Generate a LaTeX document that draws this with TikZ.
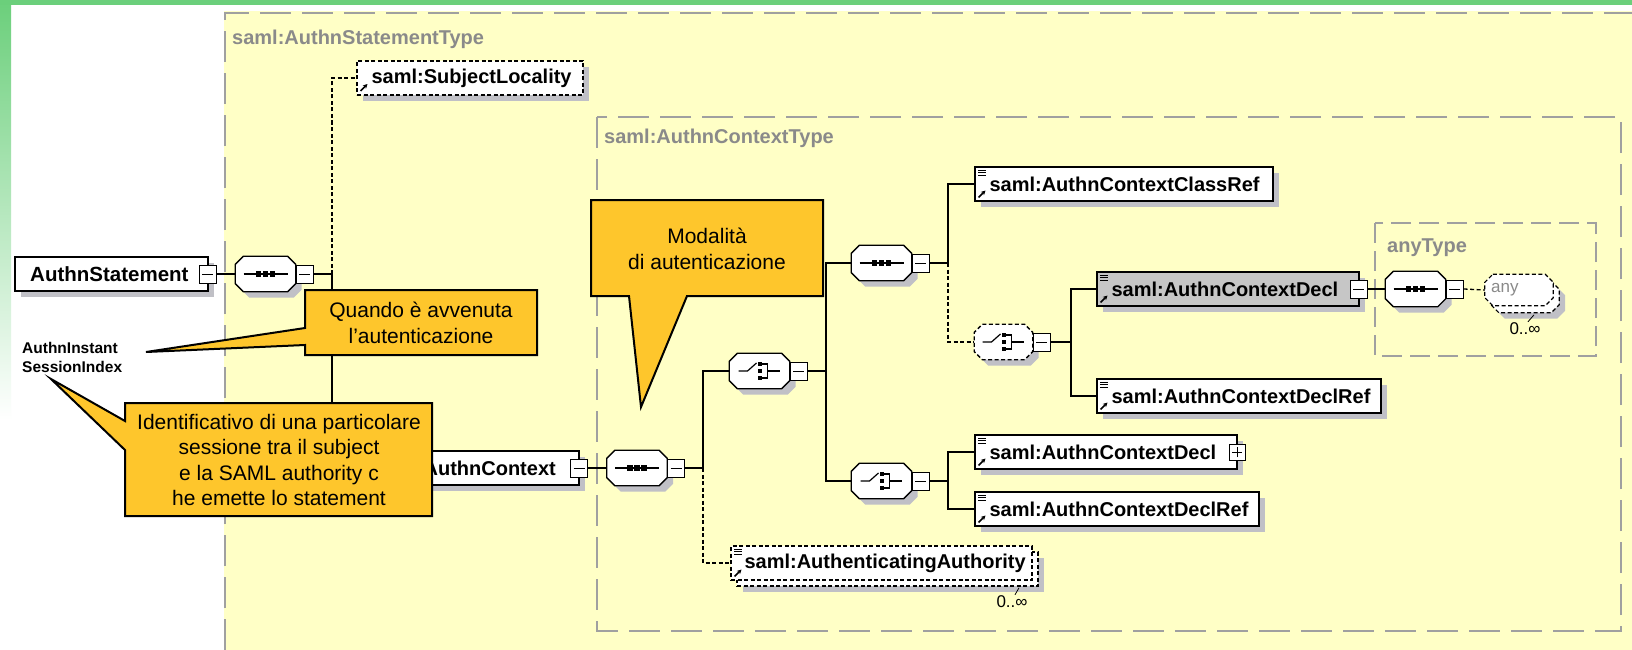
\documentclass[tikz,border=0pt]{standalone}
\usepackage{fontspec}
\setmainfont{Liberation Sans}
\usetikzlibrary{shadows,arrows.meta}
\definecolor{ybg}{HTML}{FFFFC6}
\definecolor{dgray}{HTML}{A0A0A0}
\definecolor{lgray}{HTML}{8A8A8A}
\definecolor{shg}{HTML}{C0C0C6}
\definecolor{callo}{HTML}{FEC62C}
\definecolor{grn}{HTML}{6BCF7B}
\definecolor{boxg}{HTML}{C6C6C6}
\newcommand\tklab{\fontsize{20}{22}\selectfont\bfseries}
\newcommand\tkbig{\fontsize{20.5}{24}\selectfont\bfseries}
\newcommand\tkcall{\fontsize{21}{25.3}\selectfont}
\newcommand\tksm{\fontsize{15.5}{19}\selectfont\bfseries}
\newcommand\tkocc{\fontsize{17}{20}\selectfont}
% octagon outline around a named node, shifted by (#2,#3)
\newcommand\octp[3]{([shift={(8pt+#2,#3)}]#1.north west) -- ([shift={(-8pt+#2,#3)}]#1.north east) -- ([shift={(#2,-8pt+#3)}]#1.north east) -- ([shift={(#2,8pt+#3)}]#1.south east) -- ([shift={(-8pt+#2,#3)}]#1.south east) -- ([shift={(8pt+#2,#3)}]#1.south west) -- ([shift={(#2,8pt+#3)}]#1.south west) -- ([shift={(#2,-8pt+#3)}]#1.north west) -- cycle}
% draw an octagon with shadow: #1 outline options, #2 node name
\newcommand\octdraw[2]{%
  \fill[shg] \octp{#2}{6pt}{-6pt};
  \filldraw[fill=white,draw=black,line width=1.3pt,#1] \octp{#2}{0pt}{0pt};}
\newcommand\seqsym[1]{%
  \draw[line width=1.2pt] ([xshift=-22pt]#1.center) -- ([xshift=22pt]#1.center);
  \foreach \dx in {-7,0,7} \fill[black] ([shift={(\dx pt-2.6pt,-2.6pt)}]#1.center) rectangle ++(5.2pt,5.2pt);}
\newcommand\chsym[1]{%
  \draw[line width=1.2pt] ([xshift=-21pt]#1.center) -- ([xshift=-12pt]#1.center) -- ([shift={(-3pt,8pt)}]#1.center);
  \foreach \dy in {7,0,-7} \fill[black] ([shift={(-2pt,\dy pt-2.4pt)}]#1.center) rectangle ++(4.6pt,4.8pt);
  \draw[line width=1.2pt] ([shift={(2.6pt,7pt)}]#1.center) -- ([shift={(8pt,7pt)}]#1.center) -- ([shift={(8pt,-7pt)}]#1.center) -- ([shift={(2.6pt,-7pt)}]#1.center);
  \draw[line width=1.2pt] ([shift={(8pt,0pt)}]#1.center) -- ([shift={(20pt,0pt)}]#1.center);}
\tikzset{
  shd/.style={drop shadow={shadow xshift=6pt,shadow yshift=-6pt,opacity=1,fill=shg}},
  box/.style={draw=black,line width=1.3pt,fill=white,inner sep=0pt,minimum height=34pt},
  elem/.style={box,shd},
  dsh/.style={dash pattern=on 4pt off 2.5pt},
  lbl/.style={anchor=west,font=\tklab,inner sep=0pt},
  glbl/.style={anchor=west,font=\tklab,inner sep=0pt,text=lgray},
  conn/.style={line width=1.3pt,draw=black},
  octbox/.style={rectangle,inner sep=0pt,minimum width=60pt,minimum height=35pt},
  btn/.style={draw=black,line width=1pt,fill=white,inner sep=0pt,minimum width=17pt,minimum height=18pt,
    path picture={\draw[line width=1pt,solid] ([xshift=3pt]path picture bounding box.west) -- ([xshift=-3pt]path picture bounding box.east);}},
  pbtn/.style={btn,minimum width=16pt,minimum height=16pt,
    path picture={\draw[line width=1pt,solid] ([xshift=3pt]path picture bounding box.west) -- ([xshift=-3pt]path picture bounding box.east);
      \draw[line width=1pt,solid] ([yshift=3pt]path picture bounding box.south) -- ([yshift=-3pt]path picture bounding box.north);}},
  refic/.style={path picture={
    \foreach \dy in {3,5.5,8} \draw[black,line width=0.9pt,solid] ([shift={(3pt,-\dy pt)}]path picture bounding box.north west) -- ++(8pt,0pt);
    \draw[black,line width=1.6pt,solid,-{Stealth[length=4.5pt,width=4.5pt]}] ([shift={(3.5pt,3.5pt)}]path picture bounding box.south west) -- ++(7pt,7pt);}},
  arric/.style={path picture={
    \draw[black,line width=1.6pt,solid,-{Stealth[length=4.5pt,width=4.5pt]}] ([shift={(3.5pt,4pt)}]path picture bounding box.south west) -- ++(7pt,7pt);}},
  callout/.style={draw=black,line width=2pt,fill=callo,line join=miter},
  calltxt/.style={font=\tkcall,align=center,inner sep=0pt},
  occ/.style={font=\tkocc,inner sep=0pt},
}
\begin{document}
\begin{tikzpicture}[x=1pt,y=-1pt]
\useasboundingbox (0,0) rectangle (1632,650);
\fill[white] (0,0) rectangle (1632,650);
\shade[top color=grn,bottom color=white] (0,0) rectangle (11,420);
\fill[grn] (0,0) rectangle (1632,5);
\fill[ybg] (224,11) rectangle (1632,650);
% group boxes
\draw[dgray,line width=2pt,dash pattern=on 31pt off 11pt] (225,650) -- (225,13) -- (1632,13);
\draw[dgray,line width=2pt,dash pattern=on 31pt off 11pt] (597,117) rectangle (1621,631);
\draw[dgray,line width=2pt,dash pattern=on 20pt off 8pt] (1375,223) rectangle (1596,356);
\node[glbl] (tl1) at (232,39) {saml:AuthnStatementType};
\node[glbl] (tl2) at (604,138) {saml:AuthnContextType};
\node[glbl] (tl3) at (1387,248) {anyType};
% root
\node[elem,minimum width=193pt] (as) at (111.5,274) {};
\node[anchor=west,font=\tkbig,inner sep=0pt] (ast) at (30,274) {AuthnStatement};
\node[btn] (asb) at (207.5,274) {};
\node[octbox] (s1) at (265.5,274) {};
\octdraw{}{s1}\seqsym{s1}
\node[btn,anchor=west] (s1b) at (s1.east) {};
\coordinate (j1) at (332,274);
% subject locality
\node[box,shd,dsh,arric,minimum width=226pt] (sl) at (470,78) {};
\node[lbl] (slt) at ([xshift=15pt]sl.west) {saml:SubjectLocality};
% authn context
\node[elem,minimum width=234pt] (ac) at (462,468) {};
\node[anchor=east,font=\tklab,inner sep=0pt] (act) at (556,468) {AuthnContext};
\node[btn] (acb) at (579,468) {};
\node[octbox] (s2) at (637,468) {};
\octdraw{}{s2}\seqsym{s2}
\node[btn,anchor=west] (s2b) at (s2.east) {};
\coordinate (j2) at (703,468);
\node[octbox] (c1) at (759.5,371) {};
\octdraw{}{c1}\chsym{c1}
\node[btn,anchor=west] (c1b) at (c1.east) {};
\coordinate (j3) at (826,371);
\node[octbox] (s3) at (881.5,263) {};
\octdraw{}{s3}\seqsym{s3}
\node[btn,anchor=west] (s3b) at (s3.east) {};
\coordinate (j4) at (948,263);
\node[elem,refic,minimum width=298pt] (cr) at (1124,184) {};
\node[lbl] (crt) at ([xshift=15pt]cr.west) {saml:AuthnContextClassRef};
\node[octbox,minimum width=58pt] (c2) at (1003.5,342) {};
\octdraw{dsh}{c2}\chsym{c2}
\node[btn,anchor=west] (c2b) at (c2.east) {};
\coordinate (j5) at (1071,342);
\node[elem,refic,fill=boxg,minimum width=262pt] (d1) at (1228,289) {};
\node[lbl] (d1t) at ([xshift=15pt]d1.west) {saml:AuthnContextDecl};
\node[btn] (d1b) at (1358.5,289) {};
\node[octbox] (s4) at (1415.5,289) {};
\octdraw{}{s4}\seqsym{s4}
\node[btn,anchor=west] (s4b) at (s4.east) {};
\node[octbox,minimum width=68pt,minimum height=31pt] (an2) at (1525,297) {};
\octdraw{dsh,line width=1.2pt}{an2}
\node[octbox,minimum width=68pt,minimum height=31pt] (an) at (1519,290) {};
\filldraw[fill=white,draw=black,line width=1.2pt,dsh] \octp{an}{0pt}{0pt};
\node[anchor=west,occ,text=lgray] (ant) at (1491,290) {any};
\node[occ] (aninf) at (1525,329) {0..∞};
\draw[line width=0.8pt] (aninf.north) ++(3pt,1pt) -- ++(6pt,7pt);
\node[elem,refic,minimum width=284pt] (dr1) at (1239,396) {};
\node[lbl] (dr1t) at ([xshift=15pt]dr1.west) {saml:AuthnContextDeclRef};
\node[octbox] (c3) at (881.5,481) {};
\octdraw{}{c3}\chsym{c3}
\node[btn,anchor=west] (c3b) at (c3.east) {};
\coordinate (j6) at (948,481);
\node[elem,refic,minimum width=262pt] (d2) at (1106,452) {};
\node[lbl] (d2t) at ([xshift=15pt]d2.west) {saml:AuthnContextDecl};
\node[pbtn] (d2b) at (1237,452) {};
\node[elem,refic,minimum width=284pt] (dr2) at (1117,509) {};
\node[lbl] (dr2t) at ([xshift=15pt]dr2.west) {saml:AuthnContextDeclRef};
\node[box,shd,dsh,minimum width=301pt] (aa2) at (887.5,569) {};
\node[box,dsh,refic,minimum width=301pt] (aa) at (881.5,563) {};
\node[lbl] (aat) at ([xshift=14pt]aa.west) {saml:AuthenticatingAuthority};
\node[occ] (aainf) at (1012,602) {0..∞};
\draw[line width=0.8pt] (aainf.north) ++(3pt,1pt) -- ++(4pt,7pt);
% connectors
\draw[conn] (asb.east) -- (s1.west);
\draw[conn] (s1b.east) -- (j1);
\draw[conn,dsh] (j1) |- (sl.west);
\draw[conn] (j1) |- (ac.west);
\draw[conn] (acb.east) -- (s2.west);
\draw[conn] (s2b.east) -- (j2);
\draw[conn] (j2) |- (c1.west);
\draw[conn,dsh] (j2) |- (aa.west);
\draw[conn] (c1b.east) -- (j3);
\draw[conn] (j3) |- (s3.west);
\draw[conn] (j3) |- (c3.west);
\draw[conn] (s3b.east) -- (j4);
\draw[conn] (j4) |- (cr.west);
\draw[conn,dsh] (j4) |- (c2.west);
\draw[conn] (c2b.east) -- (j5);
\draw[conn] (j5) |- (d1.west);
\draw[conn] (j5) |- (dr1.west);
\draw[conn] (d1b.east) -- (s4.west);
\draw[conn,dsh] (s4b.east) -- (an.west);
\draw[conn] (c3b.east) -- (j6);
\draw[conn] (j6) |- (d2.west);
\draw[conn] (j6) |- (dr2.west);
% side text
\node[anchor=west,font=\tksm,align=left,inner sep=0pt] (ai) at (22,357) {AuthnInstant\\SessionIndex};
% callouts
\draw[callout] (305,290) -- (537,290) -- (537,355) -- (305,355) -- (305,345) -- (146,352) -- (305,328) -- cycle;
\node[calltxt] (q1) at (421,323) {Quando è avvenuta\\l’autenticazione};
\draw[callout] (125,403) -- (432,403) -- (432,516) -- (125,516) -- (125,450) -- (51,379) -- (125,421) -- cycle;
\node[calltxt] (q2) at (279,460) {Identificativo di una particolare\\sessione tra il subject\\e la SAML authority c\\he emette lo statement};
\draw[callout] (591,200) -- (823,200) -- (823,296) -- (687,296) -- (641,407) -- (629,296) -- (591,296) -- cycle;
\node[calltxt] (q3) at (707,249) {Modalità\\di autenticazione};
\end{tikzpicture}
\end{document}
